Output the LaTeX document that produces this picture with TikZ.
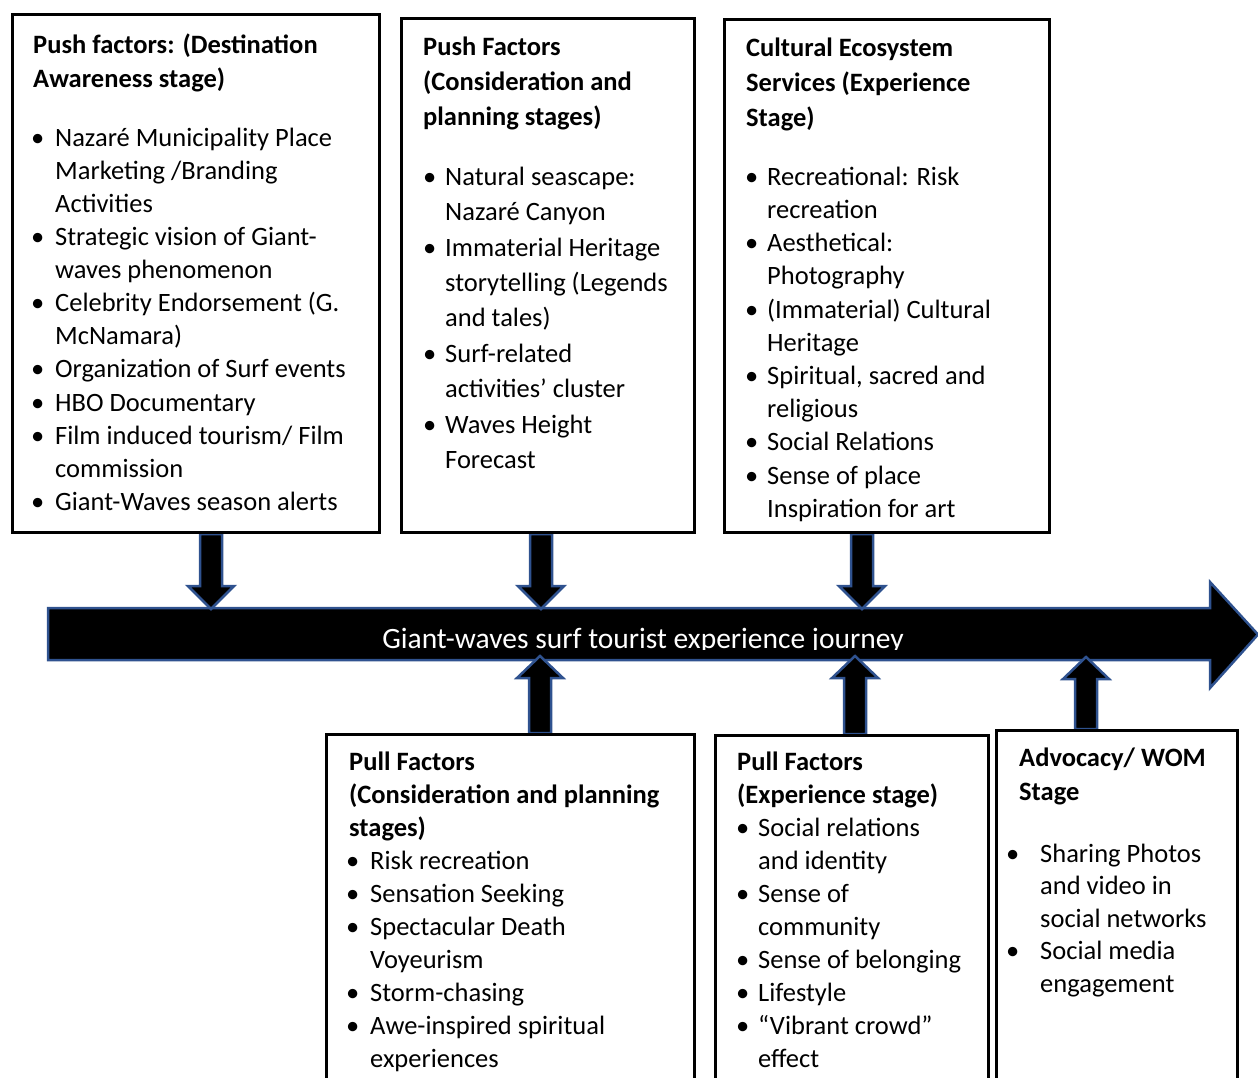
\documentclass[tikz,border=0pt]{standalone}
\usepackage{fontspec}
\setmainfont{Carlito}
\usetikzlibrary{calc,backgrounds}
\definecolor{arrowedge}{HTML}{2F528F}

% bullet slot width, set before each list
\gdef\bw{22pt}
\newcommand\bi{\makebox[\bw][l]{\textbullet}}
\newcommand\ci{\hspace*{\bw}}
\newcommand\fl{\rule{0pt}{24pt}}

\tikzset{
  box/.style={draw=black, line width=3pt, rectangle, inner sep=0pt, anchor=north west},
  head/.style={font=\fontsize{26.5}{#1}\selectfont\bfseries, align=left, inner sep=0pt, anchor=north west},
  list/.style={font=\fontsize{26.5}{#1}\selectfont, align=left, inner sep=0pt, anchor=north west},
  blockarrow/.style={fill=black, draw=arrowedge, line width=2.5pt, line join=miter},
  pics/pushdown/.style={code={
    \draw[blockarrow] (-11,0) -- (-11,52) -- (-23,52) -- (0,75) -- (23,52) -- (11,52) -- (11,0) -- cycle;}},
  pics/pullup/.style={code={
    \draw[blockarrow] (-11,0) -- (-11,{-#1+22}) -- (-23,{-#1+22}) -- (0,{-#1}) -- (23,{-#1+22}) -- (11,{-#1+22}) -- (11,0) -- cycle;}},
}

\begin{document}
\begin{tikzpicture}[x=1pt, y=-1pt]
\useasboundingbox (0,0) rectangle (1258,1078);

% ---- stage boxes ----
\node[box, minimum width=367, minimum height=517.5] (b1) at (10.5,13.5) {};
\node[box, minimum width=293, minimum height=514] (b2) at (400,17) {};
\node[box, minimum width=325, minimum height=513] (b3) at (722.5,18) {};
\node[box, minimum width=368, minimum height=360] (b4) at (325,733) {};
\node[box, minimum width=273, minimum height=360] (b5) at (714,734) {};
\node[box, minimum width=241, minimum height=365] (b6) at (995,729) {};

% ---- box texts ----
\node[head=34] (h1) at (33,29) {\fl Push factors: (Destination\\Awareness stage)};
\gdef\bw{24pt}
\node[list=33.1] (l1) at (31,122) {\fl\bi Nazaré Municipality Place\\
  \ci Marketing /Branding\\
  \ci Activities\\
  \bi Strategic vision of Giant-\\
  \ci waves phenomenon\\
  \bi Celebrity Endorsement (G.\\
  \ci McNamara)\\
  \bi Organization of Surf events\\
  \bi HBO Documentary\\
  \bi Film induced tourism/ Film\\
  \ci commission\\
  \bi Giant-Waves season alerts};

\node[head=35] (h2) at (423,31) {\fl Push Factors\\(Consideration and\\planning stages)};
\gdef\bw{22pt}
\node[list=35.4] (l2) at (423,161) {\fl\bi Natural seascape:\\
  \ci Nazaré Canyon\\
  \bi Immaterial Heritage\\
  \ci storytelling (Legends\\
  \ci and tales)\\
  \bi Surf-related\\
  \ci activities’ cluster\\
  \bi Waves Height\\
  \ci Forecast};

\node[head=35] (h3) at (746,32) {\fl Cultural Ecosystem\\Services (Experience\\Stage)};
\gdef\bw{22pt}
\node[list=33.2] (l3) at (745,161) {\fl\bi Recreational: Risk\\
  \ci recreation\\
  \bi Aesthetical:\\
  \ci Photography\\
  \bi (Immaterial) Cultural\\
  \ci Heritage\\
  \bi Spiritual, sacred and\\
  \ci religious\\
  \bi Social Relations\\
  \bi Sense of place\\
  \ci Inspiration for art};

\node[head=33.1] (h4) at (349,746) {\fl Pull Factors\\(Consideration and planning\\stages)};
\gdef\bw{24pt}
\node[list=33.1] (l4) at (346,845) {\fl\bi Risk recreation\\
  \bi Sensation Seeking\\
  \bi Spectacular Death\\
  \ci Voyeurism\\
  \bi Storm-chasing\\
  \bi Awe-inspired spiritual\\
  \ci experiences};

\node[head=33] (h5) at (737,746) {\fl Pull Factors\\(Experience stage)};
\gdef\bw{22pt}
\node[list=33.1] (l5) at (736,812) {\fl\bi Social relations\\
  \ci and identity\\
  \bi Sense of\\
  \ci community\\
  \bi Sense of belonging\\
  \bi Lifestyle\\
  \bi “Vibrant crowd”\\
  \ci effect};

\node[head=34] (h6) at (1019,742) {\fl Advocacy/ WOM\\Stage};
\gdef\bw{34pt}
\node[list=32.5] (l6) at (1006,838) {\fl\bi Sharing Photos\\
  \ci and video in\\
  \ci social networks\\
  \bi Social media\\
  \ci engagement};

% ---- arrow anchor points on the boxes ----
\coordinate (d1) at ($(b1.south west)+(200.5,0)$);
\coordinate (d2) at ($(b2.south west)+(141,0)$);
\coordinate (d3) at ($(b3.south west)+(139.5,0)$);
\coordinate (u4) at ($(b4.north west)+(215,0)$);
\coordinate (u5) at ($(b5.north west)+(141,0)$);
\coordinate (u6) at ($(b6.north west)+(91,0)$);

\begin{scope}[on background layer]
  % the journey arrow
  \draw[blockarrow] (48,608) -- (1210,608) -- (1210,582) -- (1258,634.5)
    -- (1210,688) -- (1210,660) -- (48,660) -- cycle;
  \coordinate (jtip) at (1258,634.5);
  % push factors feed in from above
  \pic at (d1) {pushdown};
  \pic at (d2) {pushdown};
  \pic at (d3) {pushdown};
  % pull factors and advocacy feed in from below
  \pic at (u4) {pullup=77};
  \pic at (u5) {pullup=78};
  \pic at (u6) {pullup=72};
\end{scope}

% label on the journey arrow, cut at the lower text edge
\begin{scope}
  \clip (48,560) rectangle (1258,649);
  \node[font=\fontsize{29.5}{34}\selectfont, text=white, anchor=base, inner sep=0pt] (jt) at (643,648)
    {Giant-waves surf tourist experience journey};
\end{scope}
\end{tikzpicture}
\end{document}
